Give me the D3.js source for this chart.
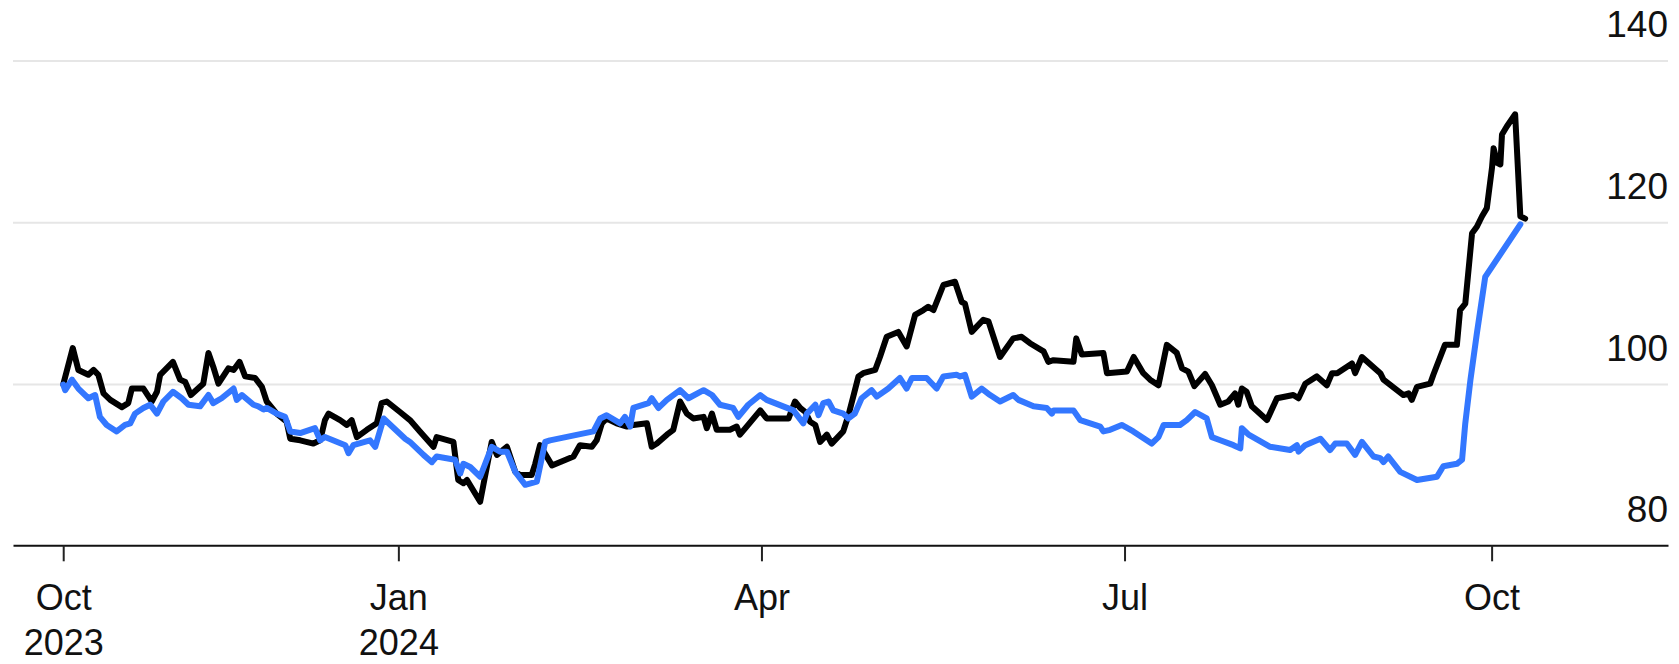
<!DOCTYPE html>
<html>
<head>
<meta charset="utf-8">
<script src="https://cdn.jsdelivr.net/npm/d3@7"></script>
<style>
  html, body { margin: 0; padding: 0; background: #ffffff; }
  svg { display: block; }
  text { font-family: "Liberation Sans", Arial, Helvetica, sans-serif; fill: #111; }
</style>
</head>
<body>
<svg id="chart" width="1679" height="664"></svg>
<script>
// ---- data (days since 2023-10-09, index values) ----
const startDate = Date.UTC(2023, 9, 9);

const blackDays = [0,2.4,3.8,6.3,7.6,8.8,10.1,11.8,14.7,16.3,
  17.2,20.1,22.2,23.5,24.3,27.5,29.3,30.6,32.0,35.1,
  36.4,37.6,38.9,41.4,42.7,44.2,45.6,48.1,49.8,51.0,
  53.5,56.0,56.9,59.4,62.7,64.4,65.6,66.5,69.4,71.1,
  72.3,73.6,76.1,78.6,79.8,81.1,84.4,86.9,89.4,92.8,
  93.6,97.8,99.0,100.3,101.2,104.5,105.7,107.4,108.7,111.2,
  113.3,114.5,117.4,118.3,119.5,122.5,127.9,129.5,132.5,133.7,
  135.0,136.2,138.7,141.3,142.9,146.3,147.5,148.8,151.3,152.9,
  154.6,156.3,157.9,160.5,161.3,162.6,163.8,167.1,168.8,169.6,
  171.3,174.7,176.3,181.8,183.4,184.7,186.0,187.2,188.5,189.7,
  191.4,192.6,195.5,196.8,198.0,199.3,200.5,203.5,204.7,206.4,
  209.3,211.4,213.5,215.6,216.8,218.1,220.6,223.5,225.2,226.0,
  227.7,230.6,231.9,234.8,238.1,240.2,242.3,245.7,246.9,248.2,
  253.2,253.9,255.3,260.7,261.6,266.6,268.3,270.7,272.4,274.5,
  276.6,279.1,280.4,282.0,283.5,286.2,287.9,290.0,292.0,293.7,
  294.5,295.4,296.6,297.9,301.7,304.2,308.3,309.6,311.3,314.2,
  316.7,318.0,319.3,323.0,323.8,325.5,330.1,330.9,335.9,337.2,
  338.0,339.3,342.6,343.4,346.3,349.3,350.1,351.4,353.1,354.3,
  355.6,356.8,358.1,358.5,359.4,360.2,360.6,361.8,363.9,365.2,
  366.4];
const blackValues = [100,104.5,101.8,101.2,101.8,101.2,98.9,98.1,97.2,97.7,
  99.5,99.5,97.9,99.1,101.2,102.8,100.6,100.3,98.7,100.1,
  103.9,102.2,100.1,102.0,101.8,102.8,101.0,100.8,99.7,97.9,
  96.4,95.4,93.3,93.1,92.7,93.1,95.6,96.4,95.6,95.0,
  95.6,93.5,94.4,95.2,97.7,97.9,96.6,95.6,94.2,92.3,
  93.5,92.9,88.2,87.8,88.2,85.5,88.6,92.9,91.3,92.3,
  89.2,88.8,88.8,90.2,92.5,90.0,91.1,92.5,92.3,93.1,
  95.2,95.8,95.2,94.8,95.0,95.2,92.3,92.7,93.8,94.4,
  97.9,96.4,95.8,96.0,94.6,96.4,94.4,94.4,94.8,93.8,
  94.8,96.8,95.8,95.8,97.9,97.1,96.6,95.4,95.0,92.9,
  93.8,92.7,94.2,96.2,98.5,101.0,101.4,101.8,103.4,105.9,
  106.5,104.7,108.6,109.2,109.6,109.2,112.3,112.7,110.2,110.0,
  106.5,108.0,107.8,103.4,105.7,105.9,105.1,104.1,102.8,103.0,
  102.8,105.7,103.7,103.9,101.4,101.6,103.4,101.4,100.6,99.9,
  104.9,103.9,102.0,101.6,99.8,101.3,99.9,97.5,97.9,98.9,
  97.5,99.5,99.1,97.3,95.6,98.3,98.7,98.3,100.1,101.0,
  99.9,101.4,101.4,102.6,101.4,103.4,101.4,100.6,98.7,98.9,
  98.1,99.7,100.1,101.2,104.9,104.9,109.2,110.0,118.7,119.5,
  120.8,121.8,126.8,129.2,127.4,127.2,130.9,131.9,133.4,120.8,
  120.5];

const blueDays = [0,0.5,2.2,3.8,6.3,8.0,9.2,10.9,13.4,15.5,
  16.8,18.0,20.1,21.8,23.5,25.1,27.5,29.7,31.4,34.3,
  36.4,37.6,39.7,42.7,43.5,44.8,47.7,48.9,50.2,51.0,
  53.5,55.6,56.9,59.4,63.1,64.4,65.6,70.7,71.5,72.7,
  76.9,78.2,80.3,85.7,86.9,90.3,92.4,93.6,98.2,99.5,
  100.3,102.0,104.5,107.4,109.5,111.2,113.3,115.8,118.7,120.8,
  122.0,132.9,134.6,136.2,139.6,140.8,142.1,142.9,146.7,147.5,
  149.2,151.3,154.6,156.7,160.5,162.6,164.6,167.9,169.2,171.7,
  174.7,176.3,183.0,185.5,186.4,188.5,189.3,190.5,191.8,193.0,
  195.5,196.8,198.4,200.1,202.6,203.9,206.8,209.7,211.4,212.7,
  216.4,218.9,220.6,223.9,224.8,226.0,227.7,230.2,232.3,234.8,
  238.1,239.4,243.2,246.5,247.8,248.2,253.2,254.9,259.9,260.7,
  262.4,265.3,268.2,272.8,274.5,275.8,279.9,281.6,283.7,286.6,
  287.9,290.0,293.3,295.0,295.4,297.1,302.5,307.5,309.2,309.6,
  311.3,315.1,317.5,318.8,321.7,323.8,325.5,328.4,330.1,330.9,
  332.1,335.1,339.3,344.3,345.9,349.3,350.6,351.4,352.7,354.3,
  356.4,365.2];
const blueValues = [100,99.3,100.6,99.5,98.3,98.7,96.0,95.0,94.2,95.0,
  95.2,96.4,97.1,97.5,96.4,97.9,99.1,98.3,97.5,97.3,
  98.7,97.7,98.3,99.5,98.1,98.7,97.5,97.3,96.9,97.1,
  96.4,96.0,94.2,94.0,94.6,93.1,93.5,92.5,91.5,92.5,
  93.1,92.3,95.8,93.3,92.9,91.3,90.4,91.1,90.7,89.0,
  90.2,89.8,88.6,92.3,91.7,91.7,89.2,87.6,88.0,92.9,
  93.1,94.2,95.8,96.2,95.2,96.0,94.8,97.1,97.7,98.3,
  97.1,98.1,99.3,98.3,99.3,98.7,97.5,97.1,96.0,97.5,
  98.7,98.1,96.8,95.2,96.4,97.5,96.2,97.7,97.9,96.8,
  96.4,95.8,96.4,98.3,99.3,98.5,99.5,100.8,99.5,100.8,
  100.8,99.5,101.0,101.2,101.0,101.2,98.5,99.5,98.7,97.9,
  98.7,98.1,97.3,97.1,96.4,96.8,96.8,95.6,94.8,94.2,
  94.4,95.0,94.2,92.7,93.5,95.0,95.0,95.6,96.6,95.8,
  93.5,93.1,92.5,92.1,94.6,93.8,92.3,91.9,92.5,91.7,
  92.5,93.3,91.9,92.7,92.7,91.3,92.9,91.1,90.9,90.4,
  91.1,89.2,88.2,88.6,89.9,90.2,90.7,95.2,100.6,106.3,
  113.3,119.8];

const xTickDates = ["2023-10-09", "2024-01-01", "2024-04-01", "2024-07-01", "2024-10-01"];
const xTickLabels = [["Oct", "2023"], ["Jan", "2024"], ["Apr"], ["Jul"], ["Oct"]];
const yTicks = [80, 100, 120, 140];
const yGrid = [100, 120, 140];

// ---- layout ----
const left = 13, right = 1668;
const svg = d3.select("#chart");

const x = d3.scaleUtc()
  .domain([new Date(Date.UTC(2023, 8, 26, 10)), new Date(Date.UTC(2024, 10, 14, 5))])
  .range([left, right]);
const y = d3.scaleLinear().domain([80, 140]).range([546.3, 60.9]);

const toDate = d => new Date(startDate + d * 864e5);
const blackData = blackDays.map((d, i) => ({ date: toDate(d), v: blackValues[i] }));
const blueData = blueDays.map((d, i) => ({ date: toDate(d), v: blueValues[i] }));

// gridlines
svg.append("g").selectAll("line").data(yGrid).join("line")
  .attr("x1", left).attr("x2", right)
  .attr("y1", d => y(d)).attr("y2", d => y(d))
  .attr("stroke", "#e6e6e6").attr("stroke-width", 2);

// y labels
svg.append("g").selectAll("text").data(yTicks).join("text")
  .attr("x", right).attr("y", d => y(d) - 24)
  .attr("text-anchor", "end")
  .style("font-size", "37px")
  .text(d => d);

// lines
const line = d3.line().x(d => x(d.date)).y(d => y(d.v));
svg.append("path").datum(blackData)
  .attr("d", line).attr("fill", "none")
  .attr("stroke", "#000").attr("stroke-width", 6)
  .attr("stroke-linejoin", "round").attr("stroke-linecap", "round");
svg.append("path").datum(blueData)
  .attr("d", line).attr("fill", "none")
  .attr("stroke", "#3377ff").attr("stroke-width", 6)
  .attr("stroke-linejoin", "round").attr("stroke-linecap", "round");

// x axis
const tickDates = xTickDates.map(s => new Date(s + "T00:00:00Z"));
const gx = svg.append("g").attr("transform", `translate(0,${y(80) - 1})`)
  .call(d3.axisBottom(x).tickValues(tickDates).tickSize(16).tickSizeOuter(0).tickFormat(() => ""));
gx.select(".domain").attr("stroke", "#111").attr("stroke-width", 2);
gx.selectAll(".tick line").attr("stroke", "#222").attr("stroke-width", 2);
gx.selectAll(".tick text").remove();
gx.selectAll(".tick").each(function(d, i) {
  const t = d3.select(this).append("text")
    .attr("text-anchor", "middle")
    .style("font-size", "36px")
    .attr("fill", "#111");
  xTickLabels[i].forEach((s, j) => {
    t.append("tspan").attr("x", 0).attr("y", 65 + j * 45).text(s);
  });
});
</script>
</body>
</html>
